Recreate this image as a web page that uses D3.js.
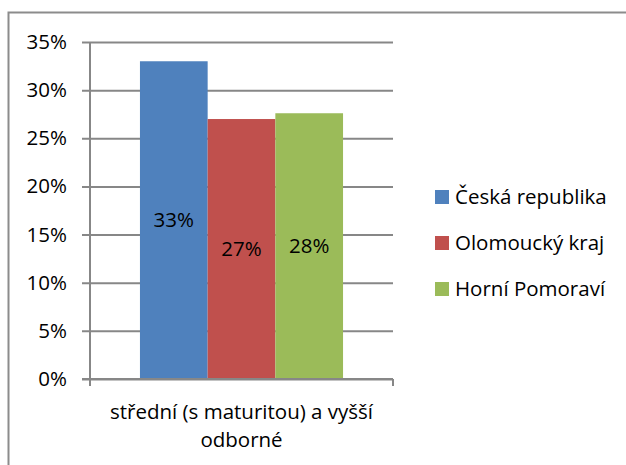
<!DOCTYPE html>
<html>
  <head>
    <meta charset="utf-8">
    <script src="https://d3js.org/d3.v7.min.js"></script>
    <style>
      body { margin: 0; background: #fff; }
      text { font-family: "Open Sans", sans-serif; fill: #000; }
    </style>
  </head>
  <body>
    <svg width="626" height="465"></svg>
    <script>
      // data
      var categories = ["střední (s maturitou) a vyšší odborné"];
      var categoryLines = [["střední (s maturitou) a vyšší", "odborné"]];
      var series = ["Česká republika", "Olomoucký kraj", "Horní Pomoraví"];
      var values = [[0.330, 0.270, 0.276]];
      var labels = [["33%", "27%", "28%"]];
      var yTicks = [0, 0.05, 0.10, 0.15, 0.20, 0.25, 0.30, 0.35];
      var colors = ["#4f81bd", "#c0504d", "#9bbb59"];

      var svg = d3.select("svg");
      // plot area edges (note: "top" is taken by window.top)
      var plotL = 90, plotR = 393, plotT = 42, plotB = 379;
      var fs = 20.5;

      // outer frame (right and bottom fall outside the picture)
      svg.append("rect")
        .attr("x", 8.5).attr("y", 12.5)
        .attr("width", 640).attr("height", 480)
        .attr("fill", "none")
        .attr("stroke", "#8c8c8c")
        .attr("stroke-width", 2);

      var y = d3.scaleLinear().domain([0, 0.35]).range([plotB, plotT]);
      var x0 = d3.scaleBand().domain(categories).range([plotL, plotR]).paddingOuter(0.246).paddingInner(0);
      var x1 = d3.scaleBand().domain(series).range([0, x0.bandwidth()]);

      // gridlines + y labels
      var yAxis = svg.append("g")
        .attr("transform", "translate(82,0)")
        .call(d3.axisLeft(y).tickValues(yTicks).tickSize(-(plotR - 82)).tickPadding(15)
          .tickFormat(d3.format(".0%")));
      yAxis.select(".domain").remove();
      yAxis.selectAll("line").attr("stroke", "#878787").attr("stroke-width", 2);
      yAxis.selectAll("text").attr("font-size", fs).attr("font-family", "Open Sans").attr("fill", "#000");

      // y axis line
      svg.append("line")
        .attr("x1", plotL).attr("x2", plotL)
        .attr("y1", plotT).attr("y2", plotB + 7)
        .attr("stroke", "#878787").attr("stroke-width", 2);

      // bars
      var g = svg.selectAll(".cat")
        .data(values)
        .enter().append("g")
        .attr("transform", function(d, i) { return "translate(" + x0(categories[i]) + ",0)"; });

      g.selectAll("rect")
        .data(function(d) { return d; })
        .enter().append("rect")
        .attr("x", function(d, i) { return x1(series[i]); })
        .attr("y", function(d) { return y(d); })
        .attr("width", x1.bandwidth())
        .attr("height", function(d) { return plotB - y(d); })
        .attr("fill", function(d, i) { return colors[i]; });

      g.selectAll(".lbl")
        .data(function(d, j) { return d.map(function(v, i) { return { v: v, t: labels[j][i] }; }); })
        .enter().append("text")
        .attr("class", "lbl")
        .attr("x", function(d, i) { return x1(series[i]) + x1.bandwidth() / 2; })
        .attr("y", function(d) { return (y(d.v) + plotB) / 2; })
        .attr("dy", "0.35em")
        .attr("text-anchor", "middle")
        .attr("font-size", fs)
        .text(function(d) { return d.t; });

      // x axis line and boundary ticks
      svg.append("line")
        .attr("x1", 82).attr("x2", plotR)
        .attr("y1", plotB).attr("y2", plotB)
        .attr("stroke", "#878787").attr("stroke-width", 2);
      svg.selectAll(".xtick")
        .data(x0.range())
        .enter().append("line")
        .attr("x1", function(d) { return d; }).attr("x2", function(d) { return d; })
        .attr("y1", plotB).attr("y2", plotB + 7)
        .attr("stroke", "#878787").attr("stroke-width", 2);

      // category label, centred under the whole category slot
      categories.forEach(function(c, i) {
        var cx = x0(c) + x0.bandwidth() / 2;
        var t = svg.append("text")
          .attr("text-anchor", "middle")
          .attr("font-size", fs);
        categoryLines[i].forEach(function(line, k) {
          t.append("tspan")
            .attr("x", cx)
            .attr("y", 419 + k * 28)
            .text(line);
        });
      });

      // legend
      var lg = svg.selectAll(".leg")
        .data(series)
        .enter().append("g")
        .attr("transform", function(d, i) { return "translate(435," + (190 + i * 46) + ")"; });
      lg.append("rect")
        .attr("width", 14).attr("height", 14)
        .attr("fill", function(d, i) { return colors[i]; });
      lg.append("text")
        .attr("x", 20).attr("y", 7).attr("dy", "0.35em")
        .attr("font-size", fs)
        .text(function(d) { return d; });
    </script>
  </body>
</html>
